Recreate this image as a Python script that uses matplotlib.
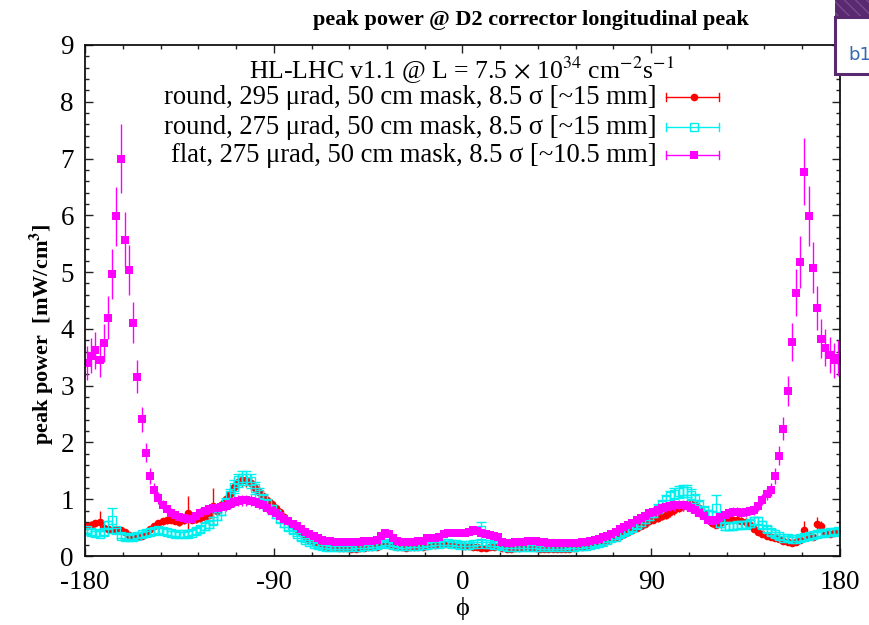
import numpy as np
import matplotlib
matplotlib.use('Agg')
import matplotlib.pyplot as plt
from matplotlib.patches import Rectangle

plt.rcParams['font.family'] = ['Liberation Serif', 'DejaVu Serif']
plt.rcParams['mathtext.fontset'] = 'stix'
plt.rcParams['axes.unicode_minus'] = False

# ---------------- data ----------------
phi = np.arange(-179, 180, 2)  # azimuthal bin centres [deg]

flat_275 = [
    3.40, 3.53, 3.62, 3.46, 3.75, 4.20, 4.97, 5.98, 7.00, 5.57,
    5.04, 4.11, 3.16, 2.41, 1.82, 1.41, 1.17, 1.02, 0.90, 0.82,
    0.76, 0.72, 0.69, 0.67, 0.66, 0.66, 0.70, 0.76, 0.79, 0.82,
    0.84, 0.85, 0.86, 0.88, 0.92, 0.95, 0.97, 0.98, 0.98, 0.97,
    0.95, 0.92, 0.89, 0.85, 0.80, 0.76, 0.71, 0.66, 0.61, 0.56,
    0.52, 0.47, 0.43, 0.39, 0.35, 0.32, 0.29, 0.27, 0.26, 0.25,
    0.25, 0.25, 0.24, 0.24, 0.24, 0.25, 0.26, 0.27, 0.26, 0.29,
    0.36, 0.40, 0.38, 0.32, 0.26, 0.25, 0.25, 0.25, 0.25, 0.26,
    0.27, 0.31, 0.31, 0.32, 0.34, 0.39, 0.41, 0.41, 0.40, 0.40,
    0.40, 0.42, 0.45, 0.44, 0.40, 0.38, 0.37, 0.36, 0.34, 0.25,
    0.23, 0.23, 0.24, 0.25, 0.25, 0.26, 0.27, 0.27, 0.25, 0.24,
    0.23, 0.23, 0.23, 0.23, 0.23, 0.23, 0.23, 0.23, 0.24, 0.25,
    0.26, 0.28, 0.30, 0.33, 0.36, 0.39, 0.43, 0.47, 0.51, 0.55,
    0.59, 0.63, 0.67, 0.71, 0.75, 0.78, 0.81, 0.84, 0.86, 0.88,
    0.89, 0.90, 0.89, 0.88, 0.85, 0.81, 0.76, 0.70, 0.64, 0.62,
    0.64, 0.68, 0.72, 0.76, 0.78, 0.78, 0.76, 0.77, 0.80, 0.81,
    0.88, 0.99, 1.10, 1.17, 1.41, 1.77, 2.24, 2.91, 3.77, 4.64,
    5.18, 6.77, 5.99, 5.08, 4.37, 3.83, 3.67, 3.54, 3.45, 3.49,
]

round_295 = [
    0.52, 0.55, 0.58, 0.60, 0.50, 0.48, 0.46, 0.47, 0.45, 0.42,
    0.37, 0.34, 0.33, 0.35, 0.40, 0.47, 0.53, 0.58, 0.61, 0.63,
    0.64, 0.62, 0.60, 0.63, 0.75, 0.64, 0.65, 0.67, 0.68, 0.72,
    0.88, 0.80, 0.90, 1.00, 1.10, 1.22, 1.30, 1.34, 1.33, 1.28,
    1.20, 1.13, 1.06, 0.99, 0.92, 0.84, 0.77, 0.69, 0.62, 0.55,
    0.48, 0.41, 0.35, 0.29, 0.24, 0.21, 0.18, 0.16, 0.15, 0.15,
    0.14, 0.14, 0.14, 0.13, 0.13, 0.14, 0.14, 0.15, 0.15, 0.16,
    0.20, 0.22, 0.20, 0.17, 0.15, 0.15, 0.14, 0.15, 0.15, 0.15,
    0.16, 0.18, 0.19, 0.20, 0.21, 0.22, 0.22, 0.21, 0.20, 0.19,
    0.18, 0.17, 0.16, 0.15, 0.14, 0.14, 0.15, 0.16, 0.17, 0.14,
    0.13, 0.13, 0.14, 0.14, 0.15, 0.15, 0.15, 0.14, 0.13, 0.13,
    0.12, 0.12, 0.12, 0.12, 0.13, 0.13, 0.14, 0.15, 0.16, 0.18,
    0.19, 0.21, 0.23, 0.25, 0.28, 0.30, 0.33, 0.36, 0.39, 0.42,
    0.46, 0.50, 0.53, 0.57, 0.61, 0.64, 0.67, 0.70, 0.73, 0.77,
    0.81, 0.85, 0.88, 0.90, 0.92, 0.90, 0.84, 0.76, 0.66, 0.58,
    0.55, 0.58, 0.62, 0.64, 0.64, 0.63, 0.62, 0.60, 0.55, 0.48,
    0.43, 0.38, 0.35, 0.33, 0.32, 0.30, 0.27, 0.25, 0.23, 0.24,
    0.28, 0.46, 0.35, 0.34, 0.56, 0.52, 0.40, 0.39, 0.41, 0.42,
]

round_275 = [
    0.45, 0.42, 0.40, 0.39, 0.42, 0.55, 0.63, 0.45, 0.36, 0.34,
    0.33, 0.34, 0.36, 0.38, 0.40, 0.42, 0.44, 0.45, 0.44, 0.42,
    0.40, 0.39, 0.38, 0.38, 0.39, 0.41, 0.44, 0.48, 0.52, 0.56,
    0.62, 0.70, 0.80, 0.93, 1.08, 1.22, 1.33, 1.38, 1.38, 1.32,
    1.20, 1.10, 1.00, 0.91, 0.82, 0.74, 0.66, 0.58, 0.51, 0.45,
    0.39, 0.33, 0.28, 0.24, 0.21, 0.19, 0.17, 0.16, 0.15, 0.15,
    0.15, 0.15, 0.15, 0.15, 0.16, 0.16, 0.17, 0.17, 0.18, 0.19,
    0.21, 0.23, 0.22, 0.20, 0.18, 0.17, 0.17, 0.18, 0.18, 0.18,
    0.19, 0.20, 0.21, 0.22, 0.22, 0.23, 0.23, 0.22, 0.21, 0.20,
    0.20, 0.20, 0.21, 0.22, 0.45, 0.22, 0.21, 0.20, 0.19, 0.17,
    0.16, 0.16, 0.16, 0.16, 0.16, 0.16, 0.16, 0.16, 0.15, 0.15,
    0.15, 0.15, 0.15, 0.15, 0.15, 0.16, 0.16, 0.17, 0.17, 0.18,
    0.19, 0.21, 0.23, 0.25, 0.28, 0.31, 0.34, 0.38, 0.42, 0.46,
    0.50, 0.55, 0.60, 0.65, 0.70, 0.76, 0.83, 0.90, 0.98, 1.05,
    1.10, 1.13, 1.15, 1.14, 1.08, 1.00, 0.90, 0.80, 0.74, 0.72,
    0.85, 0.58, 0.52, 0.52, 0.53, 0.54, 0.55, 0.55, 0.58, 0.62,
    0.62, 0.55, 0.47, 0.42, 0.38, 0.35, 0.32, 0.31, 0.30, 0.30,
    0.31, 0.33, 0.35, 0.37, 0.38, 0.40, 0.41, 0.42, 0.43, 0.44,
]

# statistical uncertainties: relative part + a few larger outliers
flat_rel_err = 0.085
round_295_rel_err = 0.08
round_275_rel_err = 0.08
round_295_big_err = {-173: 0.20, -131: 0.30, -119: 0.32, 163: 0.15, 169: 0.12, 171: 0.10}
round_275_big_err = {-167: 0.22, 9: 0.15, 121: 0.22}

x_ticks = [-180, -90, 0, 90, 180]
x_tick_labels = ['-180', '-90', '0', '90', '180']
y_ticks = [0, 1, 2, 3, 4, 5, 6, 7, 8, 9]
y_tick_labels = ['0', '1', '2', '3', '4', '5', '6', '7', '8', '9']

labels = [
    'round, 295 μrad, 50 cm mask, 8.5 σ [~15 mm]',
    'round, 275 μrad, 50 cm mask, 8.5 σ [~15 mm]',
    'flat, 275 μrad, 50 cm mask, 8.5 σ [~10.5 mm]',
]


def errors(vals, rel, big):
    e = np.asarray(vals) * rel + 0.015
    for k, v in big.items():
        e[list(phi).index(k)] = v
    return e


RED = '#ff0000'
CYAN = '#00f0f0'
MAG = '#ff00ff'

# ---------------- figure ----------------
W, H = 870, 625
fig = plt.figure(figsize=(W / 100, H / 100), dpi=100)
L, R, T, B = 85, 840, 45, 556
ax = fig.add_axes([L / W, 1 - B / H, (R - L) / W, (B - T) / H])

ax.errorbar(phi, round_295, yerr=errors(round_295, round_295_rel_err, round_295_big_err),
            fmt='o', color=RED, ms=5.5, mew=0, elinewidth=1, capsize=3.5, capthick=1, zorder=3)
ax.errorbar(phi, round_275, yerr=errors(round_275, round_275_rel_err, round_275_big_err),
            fmt='s', color=CYAN, mfc='none', mec=CYAN, ms=6, mew=1, elinewidth=1,
            capsize=3.5, capthick=1, zorder=4)
ax.errorbar(phi, flat_275, yerr=errors(flat_275, flat_rel_err, {}),
            fmt='s', color=MAG, ms=6, mew=0, elinewidth=1, capsize=3.5, capthick=1, zorder=5)

ax.set_xlim(-180, 180)
ax.set_ylim(0, 9)
ax.set_xticks(x_ticks)
ax.set_xticklabels(x_tick_labels)
ax.set_yticks(y_ticks)
ax.set_yticklabels(y_tick_labels)
ax.set_xticks(np.arange(-180, 181, 18), minor=True)
ax.set_yticks(np.arange(0, 9.01, 0.2), minor=True)
ax.tick_params(which='both', direction='in', top=True, right=True, width=1.0, color='#222222')
ax.tick_params(which='major', length=6)
ax.tick_params(which='minor', length=3.2)
ax.tick_params(axis='x', which='major', labelsize=19.5, pad=10)
ax.tick_params(axis='y', which='major', labelsize=19.5, pad=8)
for s in ax.spines.values():
    s.set_linewidth(1.3)
    s.set_color('#111111')
    s.set_zorder(10)

# labels
fig.text(531 / W, 1 - 20 / H, 'peak power @ D2 corrector longitudinal peak',
         ha='center', va='center', fontsize=16, fontweight='bold')
fig.text(42 / W, 1 - 334 / H, r'peak power  [mW/cm$^{\mathbf{3}}$]',
         ha='center', va='center', rotation=90, fontsize=16, fontweight='bold')
fig.text(462 / W, 1 - 608 / H, 'ϕ', ha='center', va='center', fontsize=19)

# legend (gnuplot style: text right-aligned, sample on the right)
def ax_x(px):
    return (px - L) / (R - L)


def ax_y(py):
    return (B - py) / (B - T)


ax.text(ax_x(462), ax_y(70), r'HL-LHC v1.1 @ L = 7.5 $\times$ 10$^{34}$ cm$^{-2}$s$^{-1}$',
        transform=ax.transAxes, ha='center', va='center', fontsize=18.5)
rows = [97, 127, 155]
styles = [
    dict(color=RED, marker='o', mfc=RED, mec=RED, ms=5.5, mew=0),
    dict(color=CYAN, marker='s', mfc='none', mec=CYAN, ms=6, mew=1),
    dict(color=MAG, marker='s', mfc=MAG, mec=MAG, ms=6, mew=0),
]
for lab, py, st in zip(labels, rows, styles):
    y = ax_y(py)
    ax.text(ax_x(657), y, lab, transform=ax.transAxes, ha='right', va='center', fontsize=19.2)
    x0, x1, xm = ax_x(666), ax_x(719), ax_x(694)
    ax.plot([x0, x1], [y, y], transform=ax.transAxes, color=st['color'], lw=1, clip_on=False)
    d = 4 / (B - T)
    for xx in (x0, x1):
        ax.plot([xx, xx], [y - d, y + d], transform=ax.transAxes, color=st['color'], lw=1, clip_on=False)
    ax.plot([xm], [y], transform=ax.transAxes, linestyle='none', marker=st['marker'],
            mfc=st['mfc'], mec=st['mec'], ms=st['ms'], mew=st['mew'], clip_on=False)

# stray "b1" box in the top-right corner
fig.patches.append(Rectangle((835 / W, 1 - 17 / H), 35 / W, 17 / H, transform=fig.transFigure,
                             facecolor='#5a2a70', edgecolor='#7a4a90', hatch='\\\\\\', lw=0, zorder=0))
fig.patches.append(Rectangle((835.5 / W, 1 - 74 / H), 40 / W, 57 / H, transform=fig.transFigure,
                             facecolor='white', edgecolor='#5a2a70', lw=2.2, zorder=0))
fig.text(848 / W, 1 - 55 / H, 'b1', family='DejaVu Sans', color='#3568b0', fontsize=13,
         ha='left', va='center')

fig.savefig('out.png', dpi=100)
